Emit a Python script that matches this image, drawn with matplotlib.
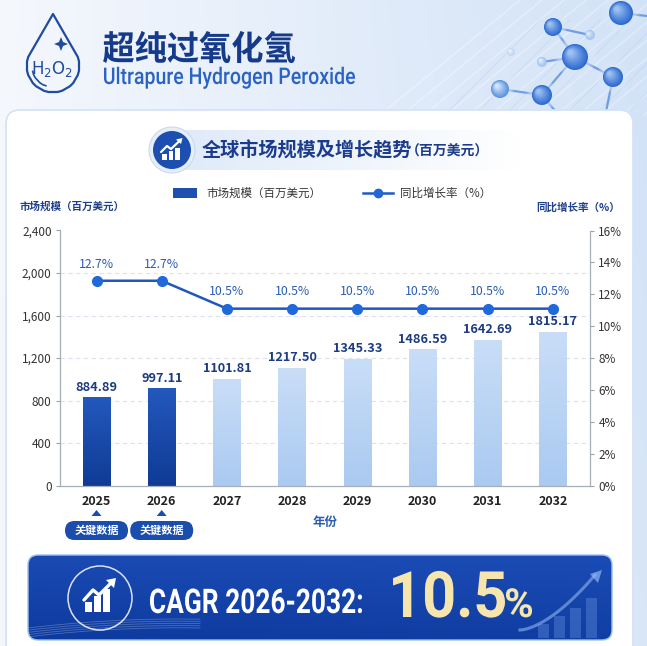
import numpy as np
import matplotlib
matplotlib.use('Agg')
import matplotlib.pyplot as plt
from matplotlib.patches import FancyBboxPatch, Circle, PathPatch, Polygon, Rectangle
from matplotlib.path import Path
from matplotlib.textpath import TextPath
from matplotlib.font_manager import FontProperties
from matplotlib.transforms import Affine2D
from matplotlib.ticker import FuncFormatter
import matplotlib.colors as mcolors

plt.rcParams['font.family'] = ['Noto Sans CJK SC', 'DejaVu Sans']

# ---------------- data ----------------
years = ['2025', '2026', '2027', '2028', '2029', '2030', '2031', '2032']
bar_heights = [830, 914, 1001, 1108, 1192, 1280, 1367, 1443]          # drawn heights as read
bar_labels = ['884.89', '997.11', '1101.81', '1217.50', '1345.33', '1486.59', '1642.69', '1815.17']
growth_values = [12.85, 12.85, 11.1, 11.1, 11.1, 11.1, 11.1, 11.1]    # drawn positions as read
growth_labels = ['12.7%', '12.7%', '10.5%', '10.5%', '10.5%', '10.5%', '10.5%', '10.5%']
highlight_years = ['2025', '2026']
left_ticks = [0, 400, 800, 1200, 1600, 2000, 2400]
right_ticks = [0, 2, 4, 6, 8, 10, 12, 14, 16]
title_cn = '超纯过氧化氢'
title_en = 'Ultrapure Hydrogen Peroxide'
section_title = '全球市场规模及增长趋势'
section_unit = '（百万美元）'
legend_bar = '市场规模（百万美元）'
legend_line = '同比增长率（%）'
left_title = '市场规模（百万美元）'
right_title = '同比增长率（%）'
x_title = '年份'
key_tag = '关键数据'
cagr_label = 'CAGR 2026-2032:'
cagr_value = '10.5'

W, H = 647, 646
fig = plt.figure(figsize=(W / 100, H / 100), dpi=100)

# background axes in pixel coordinates (y downward)
bg = fig.add_axes([0, 0, 1, 1])
bg.set_xlim(0, W)
bg.set_ylim(H, 0)
bg.axis('off')
bg.set_zorder(0)


def hex2rgb(c):
    return np.array(mcolors.to_rgb(c))


# page gradient
xx = np.linspace(0, 1, W)[None, :, None]
yy = np.linspace(0, 1, H)[:, None, None]
c_l = hex2rgb('#F5F8FD')
c_r = hex2rgb('#D2E2F7')
grad = c_l * (1 - xx) + c_r * xx
grad = grad * (1 - 0.25 * yy) + hex2rgb('#EEF3FB') * (0.25 * yy)
bg.imshow(np.clip(grad, 0, 1), extent=[0, W, H, 0], aspect='auto', zorder=0, interpolation='bilinear')

# faint diagonal tech streaks in header
for k in range(14):
    x0 = 380 + k * 22
    bg.plot([x0, x0 + 140], [115, 0], color='white', lw=1.0, alpha=0.35, zorder=1)
for k in range(8):
    x0 = 450 + k * 30
    bg.plot([x0, x0 + 90], [110, 20], color='#B9D0F0', lw=0.6, alpha=0.5, zorder=1)


def sphere(x, y, r, base='#2E6AD0', light='#9CC0F2', alpha=1.0, halo=True):
    cb = hex2rgb(base)
    cl = hex2rgb(light)
    if halo:
        for k in range(4):
            bg.add_patch(Circle((x, y), r * (1.6 - 0.12 * k), fc='#DCEAFD', ec='none',
                                alpha=0.18 * alpha, zorder=2.5))
    n = 10
    for i in range(n):
        t = i / (n - 1)
        rr = r * (1 - 0.8 * t)
        off = r * 0.35 * t
        col = cb * (1 - t) + cl * t
        bg.add_patch(Circle((x - off, y - off), rr, fc=col, ec='none', alpha=alpha, zorder=3))


# molecule bonds
bonds = [((553, 27), (575, 57)), ((575, 57), (613, 77)), ((575, 57), (542, 95)),
         ((542, 95), (500, 89)), ((613, 77), (606, 112)), ((542, 95), (556, 112)),
         ((621, 13), (647, 16)), ((553, 27), (590, 35)), ((575, 57), (542, 62))]
for (a, b) in bonds:
    bg.plot([a[0], b[0]], [a[1], b[1]], color='#4F86DA', lw=1.6, alpha=0.75, zorder=2)
sphere(621, 13, 12)
sphere(553, 27, 9)
sphere(575, 57, 13)
sphere(613, 77, 10)
sphere(542, 95, 10)
sphere(500, 89, 9, base='#5B92E0', light='#D5E6FB')
sphere(542, 62, 5, base='#9DBFEF', light='#E5EFFC', alpha=0.7, halo=False)
sphere(590, 35, 5, base='#9DBFEF', light='#E5EFFC', alpha=0.7, halo=False)
sphere(511, 52, 4, base='#BCD3F4', light='#EEF4FD', alpha=0.7, halo=False)


def fit_text(s, x0, x1, base, em, color, family, weight='bold', zorder=6, alpha=1.0):
    fp = FontProperties(family=family, weight=weight)
    tp = TextPath((0, 0), s, size=em, prop=fp)
    ext = tp.get_extents()
    sx = (x1 - x0) / ext.width
    tr = Affine2D().translate(-ext.x0, 0).scale(sx, -1).translate(x0, base)
    bg.add_patch(PathPatch(tr.transform_path(tp), fc=color, ec='none', zorder=zorder, alpha=alpha))


# --- header drop icon ---
cx, cy, r = 53, 66, 26
arc = Path.arc(150, 390)
verts = [(53, 14)]
for (vx, vy) in arc.vertices:
    verts.append((cx + r * vx, cy - r * vy))
verts.append((53, 14))
bg.add_patch(Polygon(verts, closed=True, fill=False, ec='#1F4C9E', lw=1.6, joinstyle='round', zorder=4))
arc2 = Path.arc(195, 250)
av = [(cx + 21 * vx, cy - 21 * vy) for (vx, vy) in arc2.vertices]
bg.plot([p[0] for p in av], [p[1] for p in av], color='#1F4C9E', lw=1.2, zorder=4)
sx_, sy_ = 61, 44
star = [(sx_, sy_ - 7), (sx_ + 2, sy_ - 2), (sx_ + 7, sy_), (sx_ + 2, sy_ + 2),
        (sx_, sy_ + 7), (sx_ - 2, sy_ + 2), (sx_ - 7, sy_), (sx_ - 2, sy_ - 2)]
bg.add_patch(Polygon(star, closed=True, fc='#1F4C9E', ec='none', zorder=4))
bg.text(52, 69, r'H$_2$O$_2$', fontsize=12, color='#1F4C9E', ha='center', va='center',
        family='DejaVu Sans', zorder=5)

# --- header titles ---
fit_text(title_cn, 103, 295, 60, 34, '#163A8A', 'Noto Sans CJK SC', 'bold')
fit_text(title_en, 104, 355, 84, 23, '#2B63C4', 'Roboto', 'medium')

# --- white card ---
bg.add_patch(FancyBboxPatch((6, 110), 627, 600, boxstyle='round,pad=0,rounding_size=14',
                            fc='white', ec='#D3E2F6', lw=1.2, zorder=2))

# --- section heading pill ---
pill = FancyBboxPatch((150, 130), 372, 40, boxstyle='round,pad=0,rounding_size=20',
                      fc='none', ec='none', zorder=3)
bg.add_patch(pill)
pg = np.linspace(0, 1, 200)[None, :, None]
pcol = hex2rgb('#DCE8F8') * (1 - pg) + hex2rgb('#FFFFFF') * pg
im = bg.imshow(pcol, extent=[150, 522, 170, 130], aspect='auto', zorder=3)
im.set_clip_path(pill)
bg.add_patch(Circle((172, 150), 23, fc='#E6EEFA', ec='#C9DAF2', lw=0.8, zorder=4))
bg.add_patch(Circle((172, 150), 19, fc='#1D4FB0', ec='none', zorder=4))
for bx, bh in [(162, 6), (168.5, 9), (175, 12)]:
    bg.add_patch(Rectangle((bx, 160 - bh), 4.5, bh, fc='white', ec='none', zorder=5))
bg.plot([161, 167, 171, 180], [152, 146, 149, 140.5], color='white', lw=1.6, zorder=5,
        solid_capstyle='round')
bg.add_patch(Polygon([(182.5, 138), (176, 139.5), (181, 144)], closed=True, fc='white', ec='none', zorder=5))
bg.text(202, 151, section_title, fontsize=13.8, weight='bold', color='#1B3C8C', va='center', zorder=5)
bg.text(406, 152, section_unit, fontsize=10, weight='bold', color='#1B3C8C', va='center', zorder=5)

# --- legend ---
bg.add_patch(Rectangle((173, 188), 24, 10, fc='#1D4FB0', ec='none', zorder=5))
bg.text(206, 193, legend_bar, fontsize=8.3, color='#333333', va='center', zorder=5)
bg.plot([363, 393], [193, 193], color='#1F5BC5', lw=1.8, zorder=5)
bg.plot([378], [193], marker='o', ms=6, color='#2367D4', zorder=6)
bg.text(400, 193, legend_line, fontsize=8.3, color='#333333', va='center', zorder=5)

# axis titles
bg.text(20, 207, left_title, fontsize=7.6, weight='bold', color='#1E3F8A', va='center', zorder=5)
bg.text(620, 207, right_title, fontsize=7.6, weight='bold', color='#1E3F8A', va='center', ha='right', zorder=5)

# ---------------- chart ----------------
ax_l, ax_r, ax_t, ax_b = 60, 590, 230.5, 485.7
ax = fig.add_axes([ax_l / W, (H - ax_b) / H, (ax_r - ax_l) / W, (ax_b - ax_t) / H])
ax.set_zorder(2)
ax.patch.set_visible(False)
x = np.arange(len(years))
bw = 0.42
dark_top, dark_bot = hex2rgb('#2358BC'), hex2rgb('#0F3B95')
light_top, light_bot = hex2rgb('#C9DDF7'), hex2rgb('#AACAF1')
vg = np.linspace(0, 1, 64)[:, None, None]
for i, (yr, h) in enumerate(zip(years, bar_heights)):
    if yr in highlight_years:
        col = dark_top * (1 - vg) + dark_bot * vg
    else:
        col = light_top * (1 - vg) + light_bot * vg
    ax.imshow(col, extent=[x[i] - bw / 2, x[i] + bw / 2, 0, h], aspect='auto', zorder=2,
              origin='upper', interpolation='bilinear')
    ax.annotate(bar_labels[i], (x[i], h), xytext=(0, 7.5), textcoords='offset points',
                ha='center', va='center', fontsize=9.2, weight='bold', color='#1C3B80', zorder=4)

ax.set_xlim(-0.56, 7.57)
ax.set_ylim(0, 2400)
ax.set_yticks(left_ticks)
ax.yaxis.set_major_formatter(FuncFormatter(lambda v, p: f'{int(v):,}'))
ax.set_xticks(x)
ax.set_xticklabels(years, fontsize=9, weight='bold', color='#222222')
ax.tick_params(axis='x', length=0, pad=7)
ax.tick_params(axis='y', length=3, color='#9AA3AE', labelsize=8.5, labelcolor='#333333', pad=3)
ax.grid(axis='y', color='#DDE3EC', lw=0.8, ls=(0, (4, 3)))
ax.set_axisbelow(True)
for s in ['top', 'right']:
    ax.spines[s].set_visible(False)
for s in ['left', 'bottom']:
    ax.spines[s].set_color('#A6AEB9')
    ax.spines[s].set_linewidth(0.9)

ax2 = ax.twinx()
ax2.set_zorder(3)
ax2.patch.set_visible(False)
ax2.set_ylim(0, 16)
ax2.set_yticks(right_ticks)
ax2.yaxis.set_major_formatter(FuncFormatter(lambda v, p: f'{int(v)}%'))
ax2.tick_params(axis='y', length=3, color='#9AA3AE', labelsize=8.5, labelcolor='#333333', pad=3)
for s in ['top', 'left', 'bottom']:
    ax2.spines[s].set_visible(False)
ax2.spines['right'].set_color('#A6AEB9')
ax2.spines['right'].set_linewidth(0.9)
ax2.plot(x, growth_values, color='#1F57BE', lw=1.8, marker='o', ms=7,
         mfc='#2069DA', mec='#2069DA', zorder=5)
for i, v in enumerate(growth_values):
    ax2.annotate(growth_labels[i], (x[i], v), xytext=(0, 12), textcoords='offset points',
                 ha='center', va='center', fontsize=8.8, color='#2A5DB5', zorder=6)

# x title
bg.text((ax_l + ax_r) / 2, 522, x_title, fontsize=9, weight='bold', color='#2A5CB0',
        ha='center', va='center', zorder=5)

# key-data tags under highlighted years
fig.canvas.draw()
for i, yr in enumerate(years):
    if yr in highlight_years:
        px = ax.transData.transform((x[i], 0))[0]
        bg.add_patch(FancyBboxPatch((px - 31.5, 521), 63, 19, boxstyle='round,pad=0,rounding_size=9.5',
                                    fc='#1B4DAD', ec='none', zorder=5))
        bg.text(px, 530.5, key_tag, fontsize=8, weight='bold', color='white', ha='center',
                va='center', zorder=6)
        bg.add_patch(Polygon([(px - 5, 516), (px + 5, 516), (px, 510)], closed=True,
                             fc='#1B4DAD', ec='none', zorder=5))

# ---------------- CAGR banner ----------------
banner = FancyBboxPatch((28, 555), 584, 85, boxstyle='round,pad=0,rounding_size=10',
                        fc='none', ec='#9CC0F0', lw=1.0, zorder=4)
bg.add_patch(banner)
bx_ = np.linspace(0, 1, 300)[None, :, None]
by_ = np.linspace(0, 1, 90)[:, None, None]
bcol = hex2rgb('#1A4AB3') * (1 - by_) + hex2rgb('#0D3A9E') * by_
bcol = bcol * (1 - 0.15 * bx_) + hex2rgb('#2255C0') * 0.15 * bx_
im2 = bg.imshow(bcol, extent=[28, 612, 640, 555], aspect='auto', zorder=3, interpolation='bilinear')
im2.set_clip_path(banner)
# swoosh lines bottom-left
for k in range(5):
    t = np.linspace(28, 200, 50)
    yy_ = 628 + k * 2.2 - 0.12 * (t - 28) + 0.0004 * (t - 28) ** 2
    ln, = bg.plot(t, yy_, color='white', lw=0.6, alpha=0.25, zorder=4)
    ln.set_clip_path(banner)
# decorative bars and arrow on the right
for k, hh in enumerate([14, 22, 30, 40]):
    bg.add_patch(Rectangle((538 + k * 16, 638 - hh), 11, hh, fc='#6E9BE6', ec='none', alpha=0.35, zorder=4))
tt = np.linspace(0, 1, 40)
axs = 520 + 75 * tt
ays = 630 - 55 * tt ** 1.6
bg.plot(axs, ays, color='#8FB5F2', lw=2.2, alpha=0.6, zorder=4)
bg.add_patch(Polygon([(602, 570), (590, 574), (598, 583)], closed=True, fc='#8FB5F2', alpha=0.7,
                     ec='none', zorder=4))

bg.add_patch(Circle((100, 598), 32, fill=False, ec='white', lw=1.1, alpha=0.85, zorder=5))
for bxx, bh in [(85, 10), (94, 16), (103, 23)]:
    bg.add_patch(Rectangle((bxx, 612 - bh), 7, bh, fc='white', ec='none', zorder=6))
bg.plot([84, 93, 99, 112], [600, 590, 595, 582], color='white', lw=2.4, zorder=6,
        solid_capstyle='round')
bg.add_patch(Polygon([(116, 578), (106, 580), (114, 588)], closed=True, fc='white', ec='none', zorder=6))

fit_text(cagr_label, 150, 362, 613, 34, 'white', 'Roboto', 'bold')
fit_text(cagr_value, 393, 505, 617, 64, '#F6E6AE', 'Roboto', 'bold')
fit_text('%', 506, 532, 617, 40, '#F6E6AE', 'Roboto', 'bold')

fig.savefig('out.png', dpi=100)
